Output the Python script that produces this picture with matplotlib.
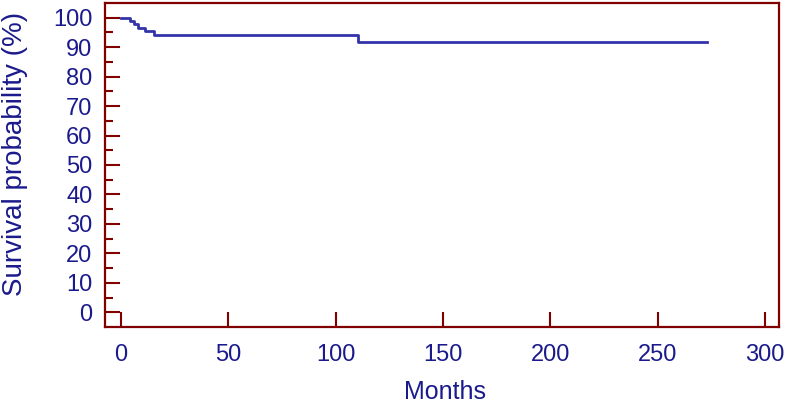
import matplotlib.pyplot as plt
import numpy as np

# Kaplan-Meier style survival curve
months = [0, 4, 6, 8, 11, 15.5, 110.5, 273]
survival = [100, 98.9, 97.8, 96.6, 95.5, 94.3, 91.6, 91.6]

xticks = [0, 50, 100, 150, 200, 250, 300]
yticks = [0, 10, 20, 30, 40, 50, 60, 70, 80, 90, 100]

frame_col = "#800000"
text_col = "#1a1a8c"
line_col = "#3333aa"

plt.rcParams['font.family'] = ['Liberation Sans', 'DejaVu Sans']

fig = plt.figure(figsize=(7.86, 4.05), dpi=100)
ax = fig.add_axes([0.1336, 0.1926, 0.8575, 0.80])

ax.step(months, survival, where="post", color=line_col, lw=2)

ax.set_xlim(-7.5, 306.5)
ax.set_ylim(-5, 105)
ax.set_xticks(xticks)
ax.set_yticks(yticks)
ax.set_yticks(np.arange(5, 100, 10), minor=True)

for s in ax.spines.values():
    s.set_color(frame_col)
    s.set_linewidth(1.6)

ax.tick_params(axis="both", which="major", direction="in", length=10.5, width=1.5,
               color=frame_col, labelcolor=text_col, labelsize=17)
ax.tick_params(axis="x", which="major", pad=12)
ax.tick_params(axis="y", which="major", pad=9)
ax.tick_params(axis="y", which="minor", direction="in", length=5.5, width=1.5,
               color=frame_col)

# axis titles placed in figure coords
fig.text(445 / 786, 1 - 392 / 405, "Months", color=text_col, fontsize=18,
         ha="center", va="center")
fig.text(15 / 786, 1 - 154 / 405, "Survival probability (%)", color=text_col,
         fontsize=20, ha="center", va="center", rotation=90)

fig.savefig("out.png", dpi=100)
